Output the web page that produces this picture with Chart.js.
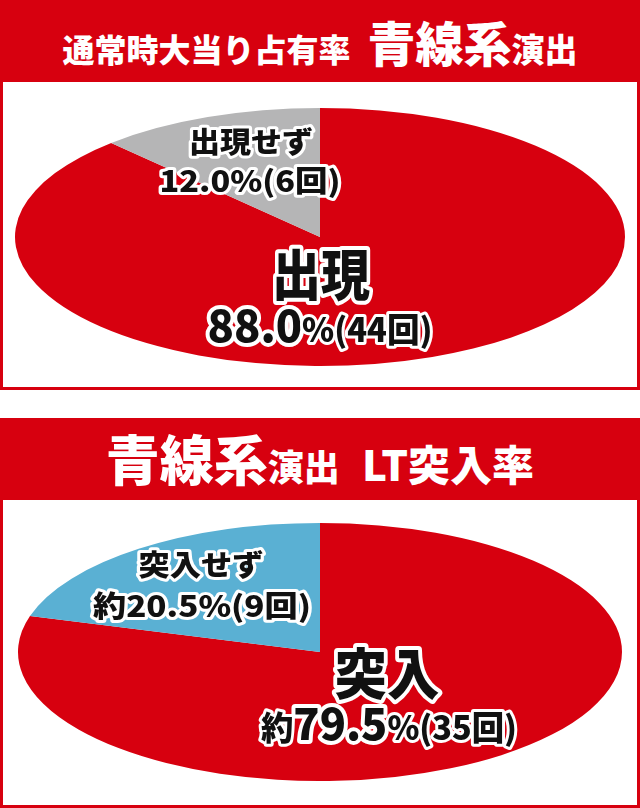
<!DOCTYPE html>
<html>
<head>
<meta charset="utf-8">
<script src="https://cdn.jsdelivr.net/npm/chart.js@4/dist/chart.umd.min.js"></script>
<style>
  body { margin: 0; background: #fff; width: 640px; height: 808px; position: relative; overflow: hidden;
         font-family: "Noto Sans CJK JP", "Noto Sans", sans-serif; }
  .panel { position: absolute; left: 0; width: 634px; height: 387px; border: 3px solid #d7000f; border-top: none; }
  .head { background: #d7000f; color: #fff; height: 82px; margin: 0 -3px; display: flex;
          justify-content: center; align-items: flex-end; font-weight: 900; line-height: 1; }
  .head div { white-space: nowrap; }
  .pie { position: absolute; left: 0; }
</style>
</head>
<body>
<div class="panel" style="top:0">
  <div class="head">
    <div style="padding-bottom:17px">
      <span style="font-size:32px">通常時大当り占有率</span><span style="font-size:48px;margin-left:17px">青線系</span><span style="font-size:33px">演出</span>
    </div>
  </div>
</div>
<div class="panel" style="top:418px">
  <div class="head">
    <div style="padding-bottom:15px">
      <span style="font-size:54px">青線系</span><span style="font-size:36px">演出</span><span style="font-size:42px;margin-left:22px">LT突入率</span>
    </div>
  </div>
</div>
<canvas id="pie1" class="pie" width="640" height="258" style="top:108px"></canvas>
<canvas id="pie2" class="pie" width="640" height="258" style="top:523px"></canvas>
<script>
// 通常時 青線系演出の出現率
const labels1 = ["出現", "出現せず"];
const values1 = [88.0, 12.0];
const counts1 = [44, 6];
// LT突入率
const labels2 = ["突入", "突入せず"];
const values2 = [79.5, 20.5];
const counts2 = [35, 9];

const RED = "#d7000f";

// 円グラフを横に引き伸ばして楕円にする
const squash = {
  id: "squash",
  beforeDatasetsDraw(chart, args, opts) {
    const arc = chart.getDatasetMeta(0).data[0];
    const sx = opts.rx / arc.outerRadius;
    const ctx = chart.ctx;
    ctx.save();
    ctx.translate(arc.x, arc.y);
    ctx.scale(sx, 1);
    ctx.translate(-arc.x, -arc.y);
  },
  afterDatasetsDraw(chart) {
    chart.ctx.restore();
  },
};

// 白フチ付きの黒文字ラベル
const outlined = {
  id: "outlined",
  afterDraw(chart, args, opts) {
    const arc = chart.getDatasetMeta(0).data[0];
    const ctx = chart.ctx;
    (opts.lines || []).forEach((ln) => {
      ctx.save();
      ctx.textBaseline = "alphabetic";
      ctx.textAlign = "left";
      let w = 0;
      ln.runs.forEach((r) => {
        ctx.font = `900 ${r[1]}px "Noto Sans CJK JP", sans-serif`;
        w += ctx.measureText(r[0]).width;
      });
      const sx = ln.w ? ln.w / w : 1;
      ctx.translate(arc.x + ln.dx, arc.y + ln.dy);
      ctx.scale(sx, 1);
      let x = -w / 2;
      ln.runs.forEach((r) => {
        ctx.font = `900 ${r[1]}px "Noto Sans CJK JP", sans-serif`;
        ctx.lineJoin = "round";
        ctx.lineWidth = r[1] > 40 ? 8 : 6;
        ctx.strokeStyle = "#fff";
        ctx.strokeText(r[0], x, 0);
        ctx.fillStyle = "#111";
        ctx.fillText(r[0], x, 0);
        x += ctx.measureText(r[0]).width;
      });
      ctx.restore();
    });
  },
};

function makePie(id, labels, values, colors, rx, lines) {
  return new Chart(document.getElementById(id), {
    type: "pie",
    data: {
      labels: labels,
      datasets: [{ data: values, backgroundColor: colors, borderWidth: 0 }],
    },
    options: {
      responsive: false,
      animation: false,
      layout: { padding: 0 },
      plugins: {
        legend: { display: false },
        tooltip: { enabled: false },
        squash: { rx: rx },
        outlined: { lines: lines },
      },
    },
    plugins: [squash, outlined],
  });
}

makePie("pie1", labels1, values1, [RED, "#b5b5b6"], 305, [
  { dx: -69, dy: -84, runs: [[labels1[1], 29]], w: 124 },
  { dx: -70, dy: -45, runs: [[values1[1].toFixed(1) + "%(" + counts1[1] + "回)", 29]], w: 181 },
  { dx: 1, dy: 58, runs: [[labels1[0], 55]], w: 98 },
  { dx: 0, dy: 105, runs: [[values1[0].toFixed(1), 44], ["%(" + counts1[0] + "回)", 33]], w: 225 },
]);

makePie("pie2", labels2, values2, [RED, "#5ab0d3"], 302, [
  { dx: -119, dy: -76, runs: [[labels2[1], 29]], w: 125 },
  { dx: -118, dy: -35, runs: [["約" + values2[1].toFixed(1) + "%(" + counts2[1] + "回)", 29]], w: 218 },
  { dx: 67, dy: 42, runs: [[labels2[0], 55]], w: 105 },
  { dx: 69, dy: 88, runs: [["約", 33], [values2[0].toFixed(1), 44], ["%(" + counts2[0] + "回)", 33]], w: 256 },
]);
</script>
</body>
</html>
